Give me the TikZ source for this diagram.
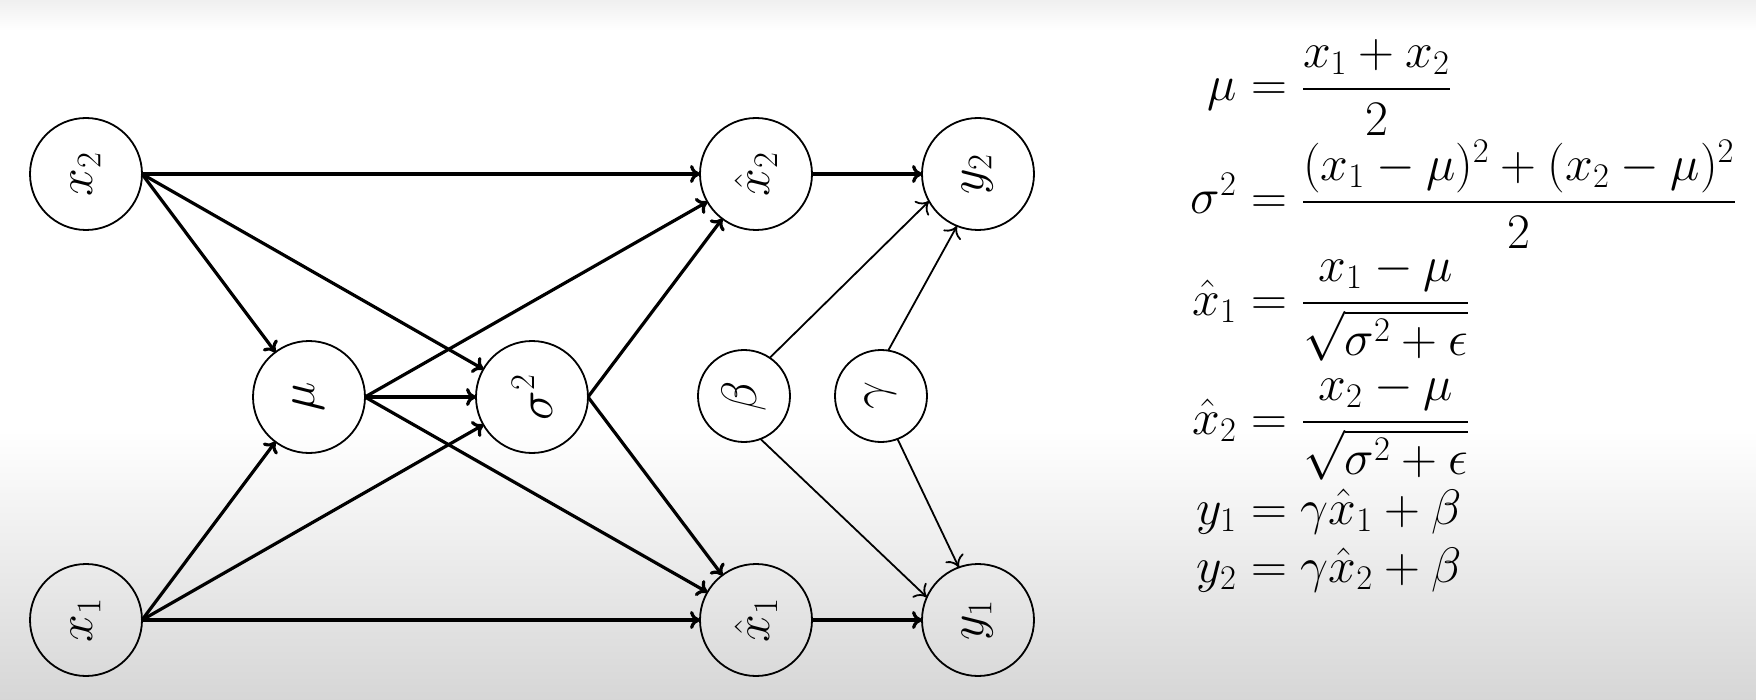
\documentclass[tikz,border=0pt]{standalone}
\usepackage{amsmath}
\usepackage{graphicx}
\usetikzlibrary{arrows.meta}
\begin{document}
\begin{tikzpicture}[x=0.5pt,y=-0.5pt,
  every node/.style={inner sep=0pt,outer sep=0pt},
  unit/.style={circle,draw,line width=0.9pt,minimum size=56pt,font=\fontsize{24}{28}\selectfont},
  param/.style={circle,draw,line width=0.9pt,minimum size=46pt,font=\fontsize{24}{28}\selectfont},
  flow/.style={line width=1.6pt,-{To[length=5pt,width=9pt]}},
  affine/.style={line width=0.9pt,-{To[length=5.5pt,width=10pt]}},
  eq/.style={font=\fontsize{24.5}{29}\selectfont}]
  % page and background shading
  \useasboundingbox (0,0) rectangle (1756,700);
  \fill[white] (0,0) rectangle (1756,700);
  \shade[top color=black!6,bottom color=white] (0,0) rectangle (1756,30);
  \shade[top color=white,middle color=black!9,bottom color=black!16] (0,430) rectangle (1756,700);

  % network units
  \node[unit] (x2) at (86,174) {\rotatebox{90}{$x_2$}};
  \node[unit] (x1) at (86,620) {\rotatebox{90}{$x_1$}};
  \node[unit] (mu) at (309,397) {\rotatebox{90}{$\mu$}};
  \node[unit] (var) at (532,397) {\rotatebox{90}{$\sigma^2$}};
  \node[unit] (xh2) at (756,174) {\rotatebox{90}{$\hat{x}_2$}};
  \node[unit] (xh1) at (756,620) {\rotatebox{90}{$\hat{x}_1$}};
  \node[unit] (y2) at (978,174) {\rotatebox{90}{$y_2$}};
  \node[unit] (y1) at (978,620) {\rotatebox{90}{$y_1$}};
  \node[param] (beta) at (744,396) {\rotatebox{90}{$\beta$}};
  \node[param] (gamma) at (881,396) {\rotatebox{90}{$\gamma$}};

  % normalisation flow
  \draw[flow] (x2.east) -- (xh2);
  \draw[flow] (x2.east) -- (mu);
  \draw[flow] (x2.east) -- (var);
  \draw[flow] (x1.east) -- (xh1);
  \draw[flow] (x1.east) -- (mu);
  \draw[flow] (x1.east) -- (var);
  \draw[flow] (mu.east) -- (var);
  \draw[flow] (mu.east) -- (xh2);
  \draw[flow] (mu.east) -- (xh1);
  \draw[flow] (var.east) -- (xh2);
  \draw[flow] (var.east) -- (xh1);
  \draw[flow] (xh2.east) -- (y2);
  \draw[flow] (xh1.east) -- (y1);

  % scale and shift
  \draw[affine] (beta.56) -- (y2.209);
  \draw[affine] (beta.291) -- (y1.156);
  \draw[affine] (gamma.81) -- (y2.248);
  \draw[affine] (gamma.291) -- (y1.110);

  % equations
  \node[eq,anchor=base east] (l1) at (1237,101) {$\mu$};
  \node[eq,anchor=base west] (r1) at (1251,101) {$\displaystyle = \frac{x_1+x_2}{2}$};
  \node[eq,anchor=base east] (l2) at (1237,214) {$\sigma^2$};
  \node[eq,anchor=base west] (r2) at (1251,214) {$\displaystyle = \frac{(x_1-\mu)^2+(x_2-\mu)^2}{2}$};
  \node[eq,anchor=base east] (l3) at (1237,315) {$\hat{x}_1$};
  \node[eq,anchor=base west] (r3) at (1251,315) {$\displaystyle = \frac{x_1-\mu}{\sqrt{\sigma^2+\epsilon}}$};
  \node[eq,anchor=base east] (l4) at (1237,434) {$\hat{x}_2$};
  \node[eq,anchor=base west] (r4) at (1251,434) {$\displaystyle = \frac{x_2-\mu}{\sqrt{\sigma^2+\epsilon}}$};
  \node[eq,anchor=base east] (l5) at (1237,524) {$y_1$};
  \node[eq,anchor=base west] (r5) at (1251,524) {$\displaystyle = \gamma\hat{x}_1+\beta$};
  \node[eq,anchor=base east] (l6) at (1237,582) {$y_2$};
  \node[eq,anchor=base west] (r6) at (1251,582) {$\displaystyle = \gamma\hat{x}_2+\beta$};
\end{tikzpicture}
\end{document}
